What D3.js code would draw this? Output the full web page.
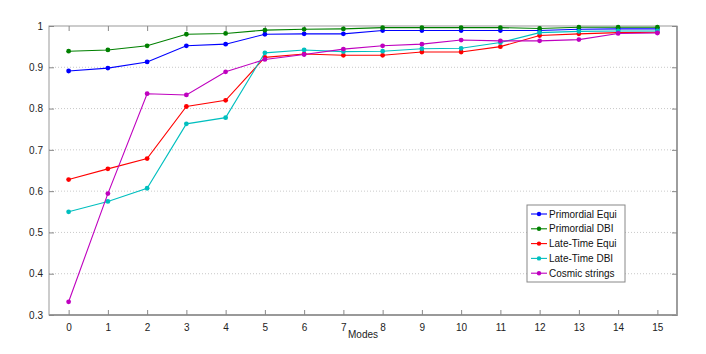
<!DOCTYPE html>
<html><head><meta charset="utf-8">
<script src="https://cdn.jsdelivr.net/npm/d3@7"></script>
<style>body{margin:0;background:#fff;} text{font-family:Arial,"Liberation Sans",sans-serif;}</style>
</head><body><svg id="c" width="706" height="354"></svg>
<script>
const modes = d3.range(0,16);
const seriesNames = ["Primordial Equi","Primordial DBI","Late-Time Equi","Late-Time DBI","Cosmic strings"];
const colors = ["#0000ff","#008000","#ff0000","#00bfbf","#bf00bf"];
const primordialEqui = [0.891,0.898,0.913,0.952,0.956,0.980,0.981,0.981,0.989,0.989,0.989,0.989,0.989,0.992,0.993,0.993];
const primordialDBI  = [0.939,0.942,0.952,0.980,0.982,0.990,0.992,0.993,0.996,0.996,0.996,0.996,0.994,0.997,0.997,0.997];
const lateTimeEqui   = [0.628,0.654,0.679,0.805,0.820,0.924,0.932,0.929,0.929,0.937,0.937,0.950,0.977,0.981,0.984,0.985];
const lateTimeDBI    = [0.550,0.575,0.607,0.763,0.778,0.935,0.942,0.938,0.939,0.945,0.946,0.960,0.984,0.987,0.988,0.988];
const cosmicStrings  = [0.332,0.594,0.836,0.833,0.889,0.919,0.931,0.944,0.952,0.956,0.966,0.964,0.964,0.967,0.982,0.983];
const yTicks = [0.3,0.4,0.5,0.6,0.7,0.8,0.9,1];
const allSeries = [primordialEqui,primordialDBI,lateTimeEqui,lateTimeDBI,cosmicStrings];

const svg = d3.select("#c");
const L=49,R=677,T=26,B=315;
const x = d3.scaleLinear().domain([-0.5,15.5]).range([L,R]);
const y = d3.scaleLinear().domain([0.3,1]).range([B,T]);

// grid
svg.append("g").selectAll("line").data(yTicks.filter(v=>v>0.3&&v<1)).join("line")
  .attr("x1",L).attr("x2",R).attr("y1",d=>y(d)).attr("y2",d=>y(d))
  .attr("stroke","#bbb").attr("stroke-width",0.8).attr("stroke-dasharray","1,2");

// frame
svg.append("rect").attr("x",L).attr("y",T).attr("width",R-L).attr("height",B-T)
  .attr("fill","none").attr("stroke","#999").attr("stroke-width",1);
svg.append("path").attr("d",`M${L},${B}H${R}V${T}`).attr("fill","none").attr("stroke","#999").attr("stroke-width",1.8);

// axes
const xa = svg.append("g").attr("transform",`translate(0,${B})`)
  .call(d3.axisBottom(x).tickValues(modes).tickSize(-5).tickPadding(9).tickFormat(d3.format("d")));
const xt = svg.append("g").attr("transform",`translate(0,${T})`)
  .call(d3.axisTop(x).tickValues(modes).tickSize(-5).tickFormat(""));
const ya = svg.append("g").attr("transform",`translate(${L},0)`)
  .call(d3.axisLeft(y).tickValues(yTicks).tickSize(-5).tickPadding(6).tickFormat(d=>d===1?"1":d3.format(".1f")(d)));
const yr = svg.append("g").attr("transform",`translate(${R},0)`)
  .call(d3.axisRight(y).tickValues(yTicks).tickSize(-5).tickFormat(""));
[xa,xt,ya,yr].forEach(g=>{
  g.select(".domain").remove();
  g.selectAll(".tick line").attr("stroke","#888");
  g.selectAll("text").attr("fill","#222").style("font-size","10px");
});

svg.append("text").attr("x",x(7.5)).attr("y",338).attr("text-anchor","middle")
  .style("font-size","10px").attr("fill","#222").text("Modes");

// lines
const line = d3.line().x((d,i)=>x(modes[i])).y(d=>y(d));
allSeries.forEach((s,k)=>{
  const g = svg.append("g");
  g.append("path").datum(s).attr("d",line).attr("fill","none")
    .attr("stroke",colors[k]).attr("stroke-width",1.1);
  g.selectAll("circle").data(s).join("circle")
    .attr("cx",(d,i)=>x(modes[i])).attr("cy",d=>y(d)).attr("r",2.4).attr("fill",colors[k]);
});

// legend
const lg = svg.append("g").attr("transform","translate(527,205)");
lg.append("rect").attr("width",98).attr("height",77).attr("fill","#fff").attr("stroke","#888").attr("stroke-width",1);
seriesNames.forEach((n,k)=>{
  const yy = 9+k*14.8;
  lg.append("line").attr("x1",4).attr("x2",20).attr("y1",yy).attr("y2",yy).attr("stroke",colors[k]).attr("stroke-width",1.1);
  lg.append("circle").attr("cx",12).attr("cy",yy).attr("r",2.2).attr("fill",colors[k]);
  lg.append("text").attr("x",22).attr("y",yy+3.5).style("font-size","10px").attr("fill","#111").text(n);
});
</script></body></html>
